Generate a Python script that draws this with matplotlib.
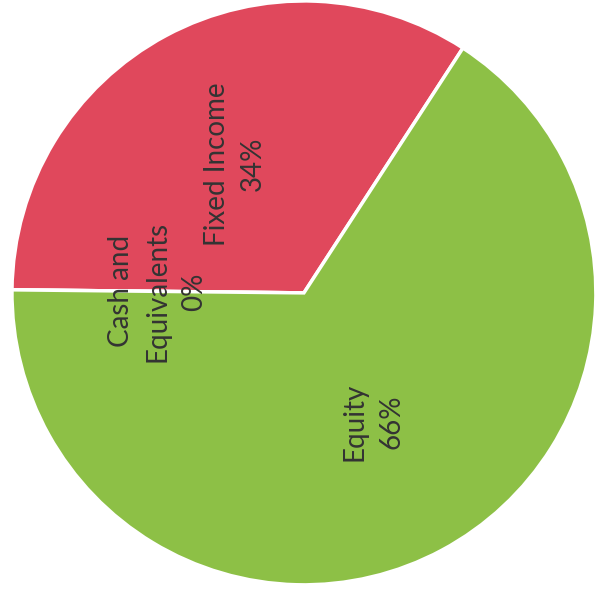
import matplotlib.pyplot as plt
import numpy as np

labels = ['Fixed Income', 'Cash and\nEquivalents', 'Equity']
values = [34, 0, 66]
colors = ['#E0485C', '#D9D9D9', '#8DC046']

fig = plt.figure(figsize=(5.95, 5.96), dpi=100)
ax = fig.add_axes([0, 0, 1, 1])

wedges, _ = ax.pie(values, colors=colors, startangle=57, counterclock=True,
                   radius=1.0, center=(0, 0),
                   wedgeprops=dict(edgecolor='white', linewidth=2.5))

# labels sit halfway out, rotated like the scanned page
for w, lab, v in zip(wedges, labels, values):
    mid = np.deg2rad((w.theta1 + w.theta2) / 2)
    x = 0.5 * np.cos(mid)
    y = 0.5 * np.sin(mid)
    ax.text(x, y, lab + '\n' + str(v) + '%', rotation=90, ha='center', va='center',
            multialignment='center', fontsize=20, color='#333333', family='Lato',
            linespacing=1.5)

ax.set_xlim(-1.041, 0.997)
ax.set_ylim(-1.038, 1.003)
ax.axis('off')

fig.savefig('out.png', dpi=100)
